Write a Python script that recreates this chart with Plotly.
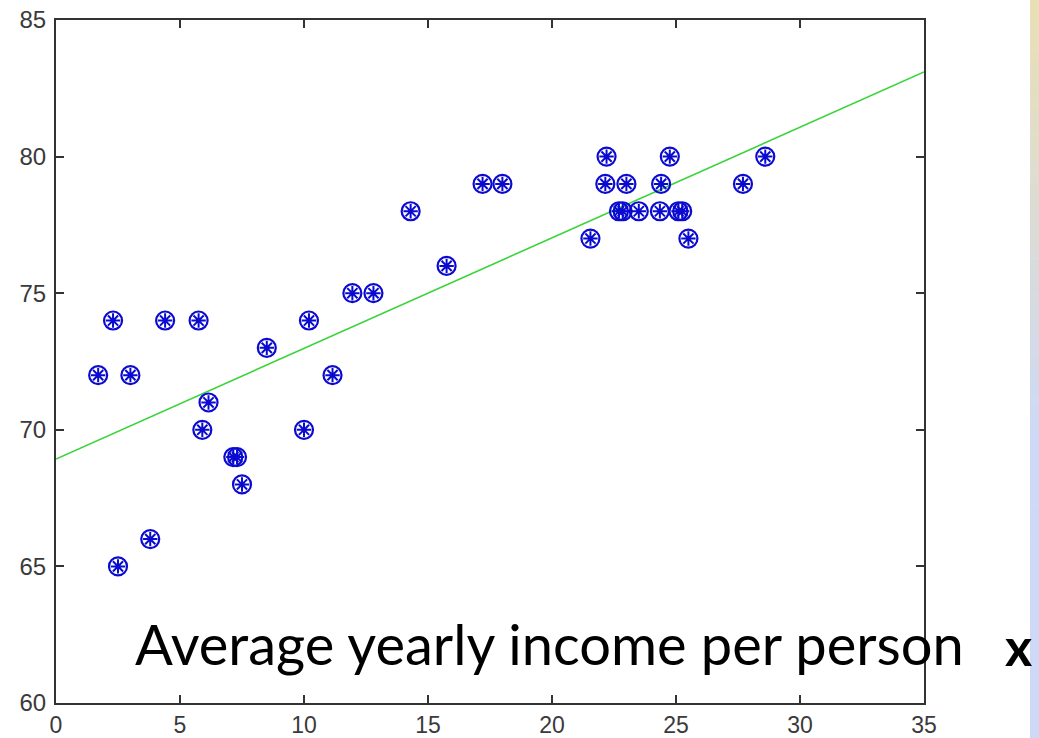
import plotly.graph_objects as go

# ---- data ----
income = [1.7, 2.3, 2.5, 3.0, 3.8, 4.4, 5.75, 5.9, 6.15, 7.15, 7.3, 7.5, 8.5,
          10.0, 10.2, 11.15, 11.95, 12.8, 14.3, 15.75, 17.2, 18.0, 21.55,
          22.15, 22.2, 22.7, 22.85, 23.0, 23.5, 24.35, 24.4, 24.75, 25.1,
          25.25, 25.5, 27.7, 28.6]
life = [72, 74, 65, 72, 66, 74, 74, 70, 71, 69, 69, 68, 73,
        70, 74, 72, 75, 75, 78, 76, 79, 79, 77,
        79, 80, 78, 78, 79, 78, 78, 79, 80, 78,
        78, 77, 79, 80]
fit_x = [0, 35]
fit_y = [68.93, 83.1]
x_ticks = [0, 5, 10, 15, 20, 25, 30, 35]
y_ticks = [60, 65, 70, 75, 80, 85]
label_text = "Average yearly income per person"
label_var = "x"

W, H = 1039, 738
L, R, T, B = 56, 924, 20, 703
MARK = "#0a0ad0"

def px_x(p):
    return (p - L) / (R - L)

def px_y(p):
    return (B - p) / (B - T)

fig = go.Figure()
fig.add_trace(go.Scatter(x=fit_x, y=fit_y, mode="lines",
                         line=dict(color="#3ad43a", width=1.6),
                         showlegend=False, hoverinfo="skip"))
fig.add_trace(go.Scatter(x=income, y=life, mode="markers",
                         marker=dict(symbol="circle-open", size=18, color=MARK,
                                     line=dict(color=MARK, width=2.2)),
                         showlegend=False))
fig.add_trace(go.Scatter(x=income, y=life, mode="markers",
                         marker=dict(symbol="asterisk-open", size=12, color=MARK,
                                     line=dict(color=MARK, width=2)),
                         showlegend=False, hoverinfo="skip"))

axis_common = dict(ticks="inside", ticklen=8, tickwidth=1.5, tickcolor="#333",
                   showline=True, linecolor="#333", linewidth=2, mirror="ticks",
                   showgrid=False, zeroline=False, automargin=False)

fig.update_xaxes(range=[0, 35], tickvals=x_ticks, ticklabelstandoff=0,
                 tickfont=dict(family="Liberation Sans, Arial", size=23, color="#3a3a3a"),
                 **axis_common)
fig.update_yaxes(range=[60, 85], tickvals=y_ticks, ticklabelstandoff=3,
                 tickfont=dict(family="Liberation Sans, Arial", size=24, color="#3a3a3a"),
                 **axis_common)

# gradient strip at right edge (slide background)
shapes = []
n = 60
top = (233, 223, 181)
bot = (205, 217, 246)
for i in range(n):
    f = min(1.0, (i / (n - 1)) / 0.6)
    c = tuple(int(round(top[k] + (bot[k] - top[k]) * f)) for k in range(3))
    y0 = i * H / n
    y1 = (i + 1) * H / n + 0.5
    shapes.append(dict(type="rect", xref="paper", yref="paper",
                       x0=px_x(1030), x1=px_x(1045), y0=px_y(y1), y1=px_y(y0),
                       fillcolor="rgb(%d,%d,%d)" % c, line=dict(width=0), layer="below"))

fig.update_layout(
    width=W, height=H,
    margin=dict(l=L, r=W - R, t=T, b=H - B, pad=0, autoexpand=False),
    plot_bgcolor="white", paper_bgcolor="white",
    shapes=shapes,
    annotations=[
        dict(text=label_text, xref="paper", yref="paper",
             x=px_x(133), y=px_y(665), xanchor="left", yanchor="bottom",
             showarrow=False, yshift=-14,
             font=dict(family="Comic Sans MS, Lato, sans-serif", size=56, color="black")),
        dict(text="<b>" + label_var + "</b>", xref="paper", yref="paper",
             x=px_x(1018), y=px_y(665), xanchor="center", yanchor="bottom",
             showarrow=False, yshift=-14,
             font=dict(family="Comic Sans MS, Lato, sans-serif", size=52, color="black")),
    ],
)

fig.write_html("out.html", config={"displayModeBar": False},
               post_script="document.body.style.margin='0';document.body.style.overflow='hidden';")
